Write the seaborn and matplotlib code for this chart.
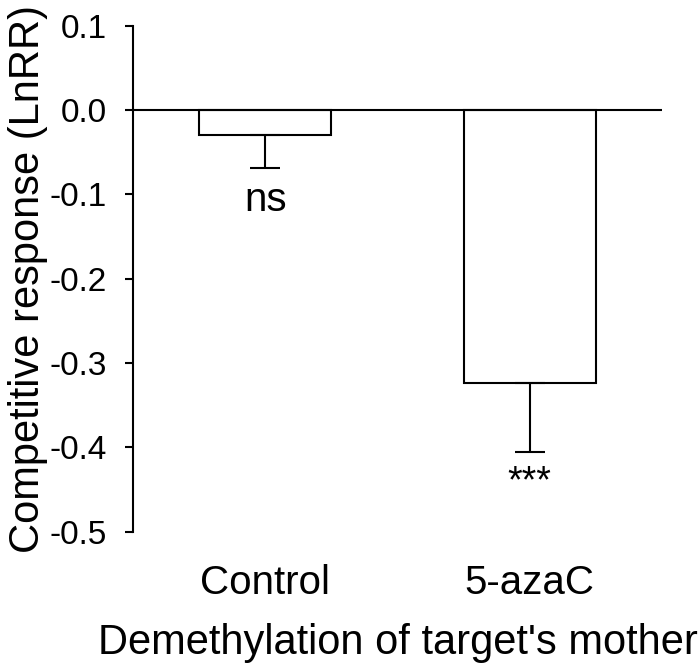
import matplotlib
matplotlib.use("Agg")
import matplotlib.pyplot as plt
import seaborn as sns
import pandas as pd
import numpy as np

# values
groups = ["Control", "5-azaC"]
means = [-0.029, -0.3235]
errs = [0.0395, 0.082]
marks = ["ns", "***"]
yticks = [-0.5, -0.4, -0.3, -0.2, -0.1, 0.0, 0.1]

sns.set_theme(style="white")
plt.rcParams["font.family"] = ["Liberation Sans", "DejaVu Sans"]
plt.rcParams["axes.unicode_minus"] = False
plt.rcParams["text.color"] = "black"

df = pd.DataFrame({"group": groups, "mean": means})

fig = plt.figure(figsize=(7, 6.68), dpi=100)
ax = fig.add_axes([0.19, 0.204, 0.7557, 0.7575])

sns.barplot(data=df, x="group", y="mean", color="white", edgecolor="black",
            linewidth=1.5, width=0.5, errorbar=None, ax=ax, zorder=2)
for p in ax.patches:
    p.set_facecolor("white")

xs = np.arange(len(groups))
ax.errorbar(xs, means, yerr=[errs, [0] * len(errs)], fmt="none",
            ecolor="black", elinewidth=1.5, capsize=10.6, capthick=1.5, zorder=3)
ax.axhline(0, color="black", lw=1.5, zorder=4)

ax.text(0, means[0] - errs[0] - 0.016, marks[0], ha="center", va="top",
        fontsize=29, color="black")
ax.text(1, means[1] - errs[1] - 0.014, marks[1], ha="center", va="top",
        fontsize=27, color="black")

ax.set_xlim(-0.5, 1.5)
ax.set_ylim(-0.5, 0.1)
ax.set_yticks(yticks)
ax.set_yticklabels(["%.1f" % v for v in yticks])

for s in ["top", "right", "bottom"]:
    ax.spines[s].set_visible(False)
ax.spines["left"].set_color("black")
ax.spines["left"].set_linewidth(1.5)

ax.tick_params(axis="y", left=True, length=6, width=1.5, color="black",
               pad=13, labelsize=24, labelcolor="black")
ax.tick_params(axis="x", bottom=False, length=0, pad=23, labelsize=29,
               labelcolor="black")

ax.set_xlabel("Demethylation of target's mother", fontsize=30, labelpad=15, color="black")
ax.set_ylabel("Competitive response (LnRR)", fontsize=30, labelpad=1, color="black")

fig.savefig("out.png", dpi=100, facecolor="white")
